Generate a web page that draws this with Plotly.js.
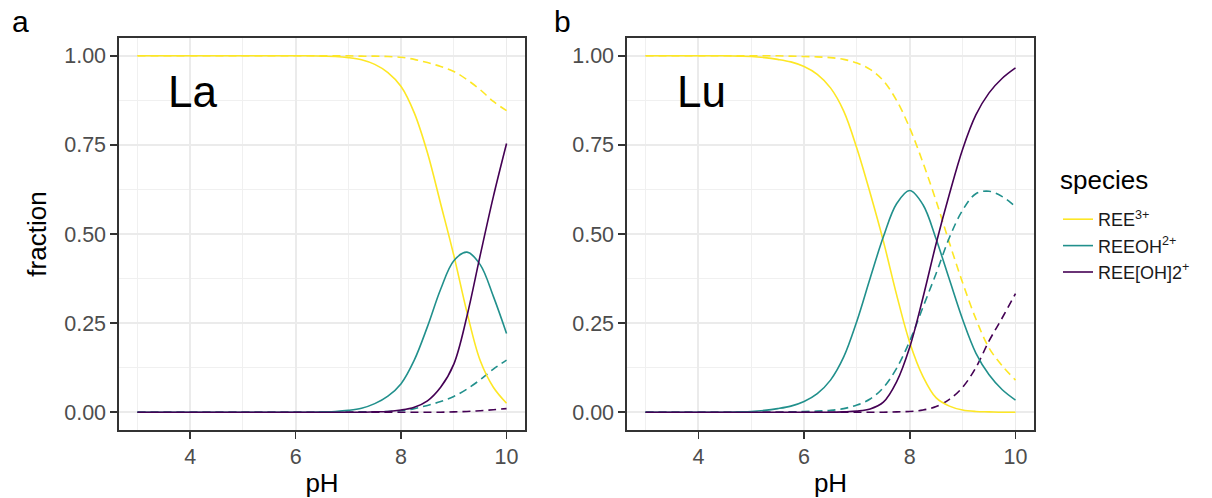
<!DOCTYPE html>
<html><head><meta charset="utf-8">
<script src="https://cdn.plot.ly/plotly-3.0.1.min.js"></script>
<style>html,body{margin:0;padding:0;background:#fff}#chart{width:1212px;height:498px}</style>
</head><body><div id="chart"></div>
<script>
// pH grid (x values)
const pH = [3,3.25,3.5,3.75,4,4.25,4.5,4.75,5,5.25,5.5,5.75,6,6.25,6.5,6.75,7,7.25,7.5,7.75,8,8.25,8.5,8.75,9,9.25,9.5,9.75,10];

const speciesNames = ['REE<sup>3+</sup>', 'REEOH<sup>2+</sup>', 'REE[OH]2<sup>+</sup>'];
const speciesColors = ['#FDE725', '#21908C', '#440154'];
const legendTitle = 'species';
const panelLabels = ['a', 'b'];
const elementLabels = ['La', 'Lu'];
const xTickVals = [4, 6, 8, 10];
const yTickVals = [0, 0.25, 0.5, 0.75, 1];
const yTickText = ['0.00', '0.25', '0.50', '0.75', '1.00'];

// Panel a (La) – solid lines
const La_REE_solid   = [1,1,1,1,1,1,1,1,1,1,1,1,1,1,0.999,0.998,0.995,0.989,0.976,0.953,0.914,0.84,0.728,0.585,0.44,0.28,0.145,0.07,0.025];
const La_REEOH_solid = [0,0,0,0,0,0,0,0,0,0,0,0,0,0,0.001,0.002,0.005,0.011,0.024,0.045,0.08,0.146,0.24,0.345,0.425,0.449,0.414,0.325,0.221];
const La_REEOH2_solid= [0,0,0,0,0,0,0,0,0,0,0,0,0,0,0,0,0,0,0.001,0.002,0.006,0.014,0.032,0.07,0.135,0.27,0.44,0.605,0.754];
// Panel a (La) – dashed lines
const La_REE_dash    = [1,1,1,1,1,1,1,1,1,1,1,1,1,1,1,1,1,0.999,0.999,0.998,0.996,0.99,0.981,0.97,0.956,0.933,0.905,0.872,0.846];
const La_REEOH_dash  = [0,0,0,0,0,0,0,0,0,0,0,0,0,0,0,0,0,0.001,0.001,0.002,0.004,0.01,0.019,0.03,0.044,0.065,0.091,0.121,0.146];
const La_REEOH2_dash = [0,0,0,0,0,0,0,0,0,0,0,0,0,0,0,0,0,0,0,0,0,0,0,0,0.001,0.002,0.004,0.007,0.01];

// Panel b (Lu) – solid lines
const Lu_REE_solid   = [1,1,1,1,1,1,1,0.999,0.998,0.995,0.99,0.983,0.97,0.948,0.91,0.845,0.74,0.615,0.48,0.33,0.195,0.1,0.04,0.017,0.006,0.002,0.001,0,0];
const Lu_REEOH_solid = [0,0,0,0,0,0,0,0.001,0.002,0.005,0.01,0.017,0.03,0.052,0.09,0.155,0.256,0.376,0.492,0.585,0.622,0.582,0.485,0.372,0.26,0.166,0.105,0.063,0.034];
const Lu_REEOH2_solid= [0,0,0,0,0,0,0,0,0,0,0,0,0,0,0,0.001,0.003,0.009,0.028,0.085,0.183,0.322,0.474,0.612,0.738,0.834,0.896,0.937,0.966];
// Panel b (Lu) – dashed lines
const Lu_REE_dash    = [1,1,1,1,1,1,1,1,1,1,1,0.999,0.998,0.997,0.995,0.99,0.98,0.962,0.93,0.875,0.797,0.7,0.592,0.475,0.363,0.262,0.18,0.13,0.09];
const Lu_REEOH_dash  = [0,0,0,0,0,0,0,0,0,0,0,0.001,0.002,0.003,0.005,0.01,0.02,0.037,0.069,0.123,0.2,0.295,0.39,0.49,0.567,0.613,0.62,0.605,0.577];
const Lu_REEOH2_dash = [0,0,0,0,0,0,0,0,0,0,0,0,0,0,0,0,0,0,0,0.001,0.002,0.006,0.016,0.036,0.07,0.125,0.2,0.265,0.333];

const FONT = 'Liberation Sans, Arial, Helvetica, sans-serif';
const LW = 1.6;
const DASH = '8px,5px';

const panels = [
  {xa: 'x', ya: 'y', solid: [La_REE_solid, La_REEOH_solid, La_REEOH2_solid], dash: [La_REE_dash, La_REEOH_dash, La_REEOH2_dash]},
  {xa: 'x2', ya: 'y2', solid: [Lu_REE_solid, Lu_REEOH_solid, Lu_REEOH2_solid], dash: [Lu_REE_dash, Lu_REEOH_dash, Lu_REEOH2_dash]}
];

const traces = [];
panels.forEach((p, pi) => {
  p.dash.forEach((vals, si) => {
    traces.push({x: pH, y: vals, xaxis: p.xa, yaxis: p.ya, type: 'scatter', mode: 'lines',
      line: {color: speciesColors[si], width: LW, dash: DASH, shape: 'spline', smoothing: 1},
      name: speciesNames[si], legendgroup: 'g' + si, showlegend: false, hoverinfo: 'x+y'});
  });
  p.solid.forEach((vals, si) => {
    traces.push({x: pH, y: vals, xaxis: p.xa, yaxis: p.ya, type: 'scatter', mode: 'lines',
      line: {color: speciesColors[si], width: LW, shape: 'spline', smoothing: 1},
      name: speciesNames[si], legendgroup: 'g' + si, showlegend: pi === 0, hoverinfo: 'x+y'});
  });
});

const L = 119, R = 1034, T = 38, B = 430, W = 1212, H = 498;
const PW = R - L, PH = B - T;
function px2paperX(px) { return (px - L) / PW; }
function px2paperY(py) { return (B - py) / PH; }

function xAxis(domain, anchor) {
  return {
    domain: domain, anchor: anchor, range: [2.65, 10.35],
    tickmode: 'array', tickvals: xTickVals,
    showgrid: true, gridcolor: '#EBEBEB', gridwidth: 1.8,
    minor: {tickvals: [3, 5, 7, 9], showgrid: true, gridcolor: '#F0F0F0', gridwidth: 1.0, ticks: ''},
    showline: true, mirror: true, linecolor: '#333333', linewidth: 1.6,
    ticks: 'outside', ticklen: 7, tickwidth: 1.6, tickcolor: '#333333',
    tickfont: {family: FONT, size: 21.5, color: '#4D4D4D'},
    zeroline: false, automargin: false,
    title: {text: 'pH', font: {family: FONT, size: 26, color: '#000'}, standoff: 7}
  };
}
function yAxis(anchor, withTitle) {
  return {
    domain: [0, 1], anchor: anchor, range: [-0.05, 1.05],
    tickmode: 'array', tickvals: yTickVals, ticktext: yTickText,
    showgrid: true, gridcolor: '#EBEBEB', gridwidth: 1.8,
    minor: {tickvals: [0.125, 0.375, 0.625, 0.875], showgrid: true, gridcolor: '#F0F0F0', gridwidth: 1.0, ticks: ''},
    showline: true, mirror: true, linecolor: '#333333', linewidth: 1.6,
    ticks: 'outside', ticklen: 7, tickwidth: 1.6, tickcolor: '#333333',
    tickfont: {family: FONT, size: 21.5, color: '#4D4D4D'},
    zeroline: false, automargin: false,
    title: withTitle ? {text: 'fraction', font: {family: FONT, size: 26, color: '#000'}, standoff: 10} : {text: ''}
  };
}

const annotations = [
  {text: panelLabels[0], xref: 'paper', yref: 'paper', x: px2paperX(20), y: px2paperY(22), xanchor: 'center', yanchor: 'middle', showarrow: false, font: {family: FONT, size: 30, color: '#000'}},
  {text: panelLabels[1], xref: 'paper', yref: 'paper', x: px2paperX(562), y: px2paperY(22), xanchor: 'center', yanchor: 'middle', showarrow: false, font: {family: FONT, size: 30, color: '#000'}},
  {text: elementLabels[0], xref: 'x', yref: 'y', x: 3.55, y: 0.9, xanchor: 'left', yanchor: 'middle', showarrow: false, font: {family: FONT, size: 44, color: '#000'}},
  {text: elementLabels[1], xref: 'x2', yref: 'y2', x: 3.55, y: 0.9, xanchor: 'left', yanchor: 'middle', showarrow: false, font: {family: FONT, size: 44, color: '#000'}},
  {text: legendTitle, xref: 'paper', yref: 'paper', x: px2paperX(1058), y: px2paperY(180), xanchor: 'left', yanchor: 'middle', showarrow: false, font: {family: FONT, size: 26, color: '#000'}}
];

const layout = {
  width: W, height: H,
  margin: {l: L, r: W - R, t: T, b: H - B, pad: 0},
  paper_bgcolor: '#fff', plot_bgcolor: '#fff',
  font: {family: FONT},
  xaxis: xAxis([0, px2paperX(525)], 'y'),
  yaxis: yAxis('x', true),
  xaxis2: xAxis([px2paperX(627), 1], 'y2'),
  yaxis2: yAxis('x2', false),
  showlegend: true,
  legend: {
    x: px2paperX(1058), y: px2paperY(201), xanchor: 'left', yanchor: 'top',
    font: {family: FONT, size: 18, color: '#1a1a1a'},
    bgcolor: 'rgba(0,0,0,0)', borderwidth: 0, tracegroupgap: 2, traceorder: 'normal',
    itemwidth: 30
  },
  annotations: annotations
};

Plotly.newPlot('chart', traces, layout, {displayModeBar: false, staticPlot: true});
</script>
</body></html>
